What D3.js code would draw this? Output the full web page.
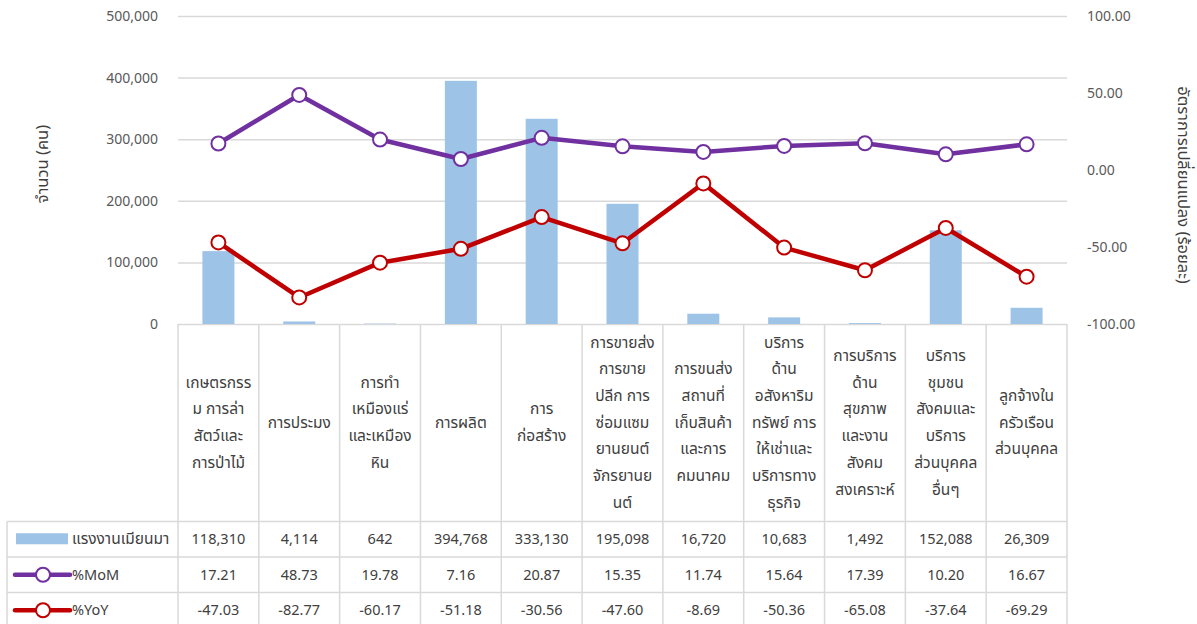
<!DOCTYPE html>
<html>
<head>
<meta charset="utf-8">
<script src="https://cdn.jsdelivr.net/npm/d3@7"></script>
<style>
  body { margin: 0; background: #fff; }
  text { font-family: Tahoma, "Leelawadee UI", "Noto Sans Thai", "DejaVu Sans", sans-serif; fill: #404040; }
</style>
</head>
<body>
<div id="chart"></div>
<script>
// categories, wrapped the way the picture wraps them
var categories = [
  "เกษตรกรร\nม การล่า\nสัตว์และ\nการป่าไม้",
  "การประมง",
  "การทำ\nเหมืองแร่\nและเหมือง\nหิน",
  "การผลิต",
  "การ\nก่อสร้าง",
  "การขายส่ง\nการขาย\nปลีก การ\nซ่อมแซม\nยานยนต์\nจักรยานย\nนต์",
  "การขนส่ง\nสถานที่\nเก็บสินค้า\nและการ\nคมนาคม",
  "บริการ\nด้าน\nอสังหาริม\nทรัพย์ การ\nให้เช่าและ\nบริการทาง\nธุรกิจ",
  "การบริการ\nด้าน\nสุขภาพ\nและงาน\nสังคม\nสงเคราะห์",
  "บริการ\nชุมชน\nสังคมและ\nบริการ\nส่วนบุคคล\nอื่นๆ",
  "ลูกจ้างใน\nครัวเรือน\nส่วนบุคคล"
]
var workers = [118310, 4114, 642, 394768, 333130, 195098, 16720, 10683, 1492, 152088, 26309]
var mom = [17.21, 48.73, 19.78, 7.16, 20.87, 15.35, 11.74, 15.64, 17.39, 10.20, 16.67]
var yoy = [-47.03, -82.77, -60.17, -51.18, -30.56, -47.60, -8.69, -50.36, -65.08, -37.64, -69.29]
var leftTicks = [0, 100000, 200000, 300000, 400000, 500000]
var rightTicks = [-100, -50, 0, 50, 100]
var seriesNames = ["แรงงานเมียนมา", "%MoM", "%YoY"]

var W = 1197, H = 624
var plot = {left: 178, right: 1067, top: 16, bottom: 324}
var tableTop = 521.5, rowH = 35.5, tableLeft = 7

var barColor = '#9dc3e6', momColor = '#7030a0', yoyColor = '#c00000', gridColor = '#d9d9d9'

var svg = d3.select('#chart').append('svg')
  .attr('width', W).attr('height', H)

var x = d3.scaleBand()
  .domain(d3.range(categories.length))
  .range([plot.left, plot.right])

var yL = d3.scaleLinear().domain([0, 500000]).range([plot.bottom, plot.top])
var yR = d3.scaleLinear().domain([-100, 100]).range([plot.bottom, plot.top])

// gridlines + left axis
var gl = svg.append('g')
  .attr('transform', 'translate(' + plot.left + ',0)')
  .call(d3.axisLeft(yL).tickValues(leftTicks).tickFormat(d3.format(','))
    .tickSize(-(plot.right - plot.left)).tickPadding(20))
gl.select('.domain').remove()
gl.selectAll('line').attr('stroke', gridColor).attr('stroke-width', 1.5)
gl.selectAll('text').style('font-size', '14px').style('fill', '#595959')

// right axis
var gr = svg.append('g')
  .attr('transform', 'translate(' + plot.right + ',0)')
  .call(d3.axisRight(yR).tickValues(rightTicks).tickFormat(d3.format('.2f'))
    .tickSize(0).tickPadding(20))
gr.select('.domain').remove()
gr.selectAll('text').style('font-size', '14px').style('fill', '#595959')

// axis titles
svg.append('text')
  .attr('transform', 'translate(48,164) rotate(-90)')
  .attr('text-anchor', 'middle').style('font-size', '16.5px')
  .text('จำนวน (คน)')
svg.append('text')
  .attr('transform', 'translate(1178,185) rotate(90)')
  .attr('text-anchor', 'middle').style('font-size', '16.5px')
  .text('อัตราการเปลี่ยนแปลง (ร้อยละ)')

// bars
var barW = 32
svg.append('g').selectAll('rect')
  .data(workers)
  .join('rect')
  .attr('x', function(d, i) { return x(i) + x.bandwidth() / 2 - barW / 2 })
  .attr('y', function(d) { return yL(d) })
  .attr('width', barW)
  .attr('height', function(d) { return yL(0) - yL(d) })
  .attr('fill', barColor)

// lines
function drawLine(values, color) {
  var line = d3.line()
    .x(function(d, i) { return x(i) + x.bandwidth() / 2 })
    .y(function(d) { return yR(d) })
  svg.append('path')
    .datum(values)
    .attr('d', line)
    .attr('fill', 'none')
    .attr('stroke', color)
    .attr('stroke-width', 4.5)
    .attr('stroke-linejoin', 'round')
  svg.append('g').selectAll('circle')
    .data(values)
    .join('circle')
    .attr('cx', function(d, i) { return x(i) + x.bandwidth() / 2 })
    .attr('cy', function(d) { return yR(d) })
    .attr('r', 7)
    .attr('fill', '#fff')
    .attr('stroke', color)
    .attr('stroke-width', 2)
}
drawLine(mom, momColor)
drawLine(yoy, yoyColor)

// table grid
var tg = svg.append('g').attr('stroke', gridColor).attr('stroke-width', 1.5)
var bounds = d3.range(categories.length).map(function(i) { return x(i) }).concat([plot.right])
bounds.forEach(function(bx) {
  tg.append('line').attr('x1', bx).attr('x2', bx).attr('y1', plot.bottom).attr('y2', H)
})
tg.append('line').attr('x1', tableLeft).attr('x2', tableLeft).attr('y1', tableTop).attr('y2', H)
d3.range(4).forEach(function(r) {
  var yy = tableTop + r * rowH
  tg.append('line').attr('x1', tableLeft).attr('x2', plot.right).attr('y1', yy).attr('y2', yy)
})

// category labels
var lineH = 26.7
var catMid = (plot.bottom + tableTop) / 2
categories.forEach(function(c, i) {
  var lines = c.split('\n')
  var t = svg.append('text')
    .attr('text-anchor', 'middle')
    .style('font-size', '15.5px')
  lines.forEach(function(l, k) {
    t.append('tspan')
      .attr('x', x(i) + x.bandwidth() / 2)
      .attr('y', catMid + (k - (lines.length - 1) / 2) * lineH + 5)
      .text(l)
  })
})

// table rows
var rows = [
  {name: seriesNames[0], values: workers, fmt: d3.format(',')},
  {name: seriesNames[1], values: mom, fmt: d3.format('.2f')},
  {name: seriesNames[2], values: yoy, fmt: d3.format('.2f')}
]
rows.forEach(function(row, r) {
  var cy = tableTop + r * rowH + rowH / 2
  svg.append('g').selectAll('text')
    .data(row.values)
    .join('text')
    .attr('x', function(d, i) { return x(i) + x.bandwidth() / 2 })
    .attr('y', cy + 5)
    .attr('text-anchor', 'middle')
    .style('font-size', '14.5px')
    .text(function(d) { return row.fmt(d) })
  svg.append('text')
    .attr('x', 72).attr('y', cy + 5)
    .style('font-size', r === 0 ? '15.5px' : '14.5px')
    .text(row.name)
})

// legend keys
var k0 = tableTop + rowH / 2
svg.append('rect').attr('x', 16).attr('y', k0 - 6).attr('width', 52).attr('height', 11).attr('fill', barColor)
;[momColor, yoyColor].forEach(function(col, j) {
  var cy = tableTop + (j + 1) * rowH + rowH / 2
  svg.append('line').attr('x1', 15).attr('x2', 70).attr('y1', cy).attr('y2', cy)
    .attr('stroke', col).attr('stroke-width', 4.5).attr('stroke-linecap', 'round')
  svg.append('circle').attr('cx', 43).attr('cy', cy).attr('r', 7)
    .attr('fill', '#fff').attr('stroke', col).attr('stroke-width', 2)
})
</script>
</body>
</html>
